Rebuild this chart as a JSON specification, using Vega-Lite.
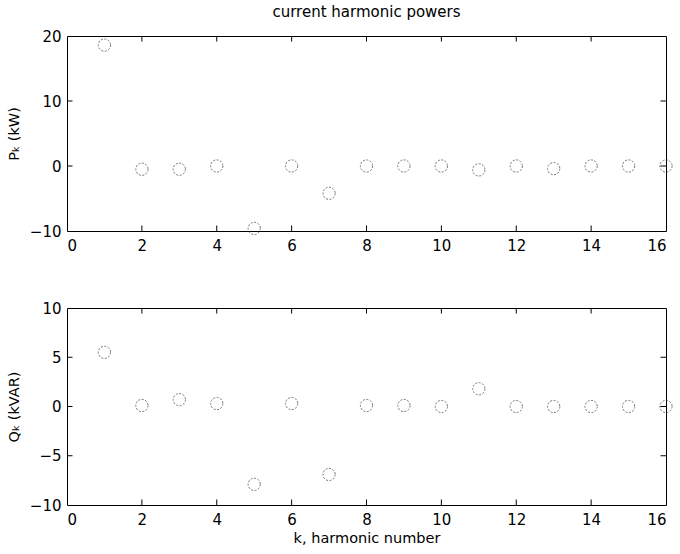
{
  "$schema": "https://vega.github.io/schema/vega-lite/v6.json",
  "padding": {"left": 5, "top": 4, "right": 5, "bottom": 5},
  "background": "white",
  "config": {
    "font": "DejaVu Sans",
    "view": {"stroke": "black", "strokeWidth": 1},
    "axis": {
      "grid": false,
      "domain": false,
      "ticks": false,
      "labelColor": "black",
      "labelFont": "DejaVu Sans",
      "labelFontSize": 15,
      "titleFont": "DejaVu Sans",
      "titleFontSize": 14.5,
      "titleFontWeight": "normal",
      "titleColor": "black"
    },
    "title": {"font": "DejaVu Sans", "fontSize": 15, "fontWeight": "normal", "color": "black"}
  },
  "datasets": {
    "harmonics": [
      {"k": 1, "P": 18.6, "Q": 5.5},
      {"k": 2, "P": -0.5, "Q": 0.1},
      {"k": 3, "P": -0.5, "Q": 0.7},
      {"k": 4, "P": 0.0, "Q": 0.3},
      {"k": 5, "P": -9.6, "Q": -7.9},
      {"k": 6, "P": 0.0, "Q": 0.3},
      {"k": 7, "P": -4.2, "Q": -6.9},
      {"k": 8, "P": 0.0, "Q": 0.1},
      {"k": 9, "P": 0.0, "Q": 0.1},
      {"k": 10, "P": 0.0, "Q": 0.0},
      {"k": 11, "P": -0.6, "Q": 1.8},
      {"k": 12, "P": 0.0, "Q": 0.0},
      {"k": 13, "P": -0.4, "Q": 0.0},
      {"k": 14, "P": 0.0, "Q": 0.0},
      {"k": 15, "P": 0.0, "Q": 0.0},
      {"k": 16, "P": 0.0, "Q": 0.0}
    ],
    "p_xticks": [
      {"k": 2, "v": -10}, {"k": 4, "v": -10}, {"k": 6, "v": -10}, {"k": 8, "v": -10},
      {"k": 10, "v": -10}, {"k": 12, "v": -10}, {"k": 14, "v": -10},
      {"k": 2, "v": 20}, {"k": 4, "v": 20}, {"k": 6, "v": 20}, {"k": 8, "v": 20},
      {"k": 10, "v": 20}, {"k": 12, "v": 20}, {"k": 14, "v": 20}
    ],
    "p_yticks": [
      {"k": 0, "v": 0}, {"k": 0, "v": 10},
      {"k": 16, "v": 0}, {"k": 16, "v": 10}
    ],
    "q_xticks": [
      {"k": 2, "v": -10}, {"k": 4, "v": -10}, {"k": 6, "v": -10}, {"k": 8, "v": -10},
      {"k": 10, "v": -10}, {"k": 12, "v": -10}, {"k": 14, "v": -10},
      {"k": 2, "v": 10}, {"k": 4, "v": 10}, {"k": 6, "v": 10}, {"k": 8, "v": 10},
      {"k": 10, "v": 10}, {"k": 12, "v": 10}, {"k": 14, "v": 10}
    ],
    "q_yticks": [
      {"k": 0, "v": -5}, {"k": 0, "v": 0}, {"k": 0, "v": 5},
      {"k": 16, "v": -5}, {"k": 16, "v": 0}, {"k": 16, "v": 5}
    ]
  },
  "spacing": 46,
  "vconcat": [
    {
      "width": 599,
      "height": 195,
      "title": {"text": "current harmonic powers", "offset": 9},
      "layer": [
        {
          "data": {"name": "harmonics"},
          "mark": {"type": "point", "shape": "circle", "filled": false, "size": 150, "stroke": "#3a3a3a", "strokeWidth": 1, "strokeDash": [2, 1.5]},
          "encoding": {
            "x": {"field": "k", "type": "quantitative", "scale": {"domain": [0, 16], "nice": false},
                  "axis": {"values": [0, 2, 4, 6, 8, 10, 12, 14, 16], "title": null, "labelPadding": 7}},
            "y": {"field": "P", "type": "quantitative", "scale": {"domain": [-10, 20], "nice": false, "zero": false},
                  "axis": {"values": [-10, 0, 10, 20], "title": "Pₖ (kW)", "labelPadding": 6, "titlePadding": 8}}
          }
        },
        {
          "data": {"name": "p_xticks"},
          "mark": {"type": "tick", "orient": "vertical", "size": 11, "thickness": 1, "color": "black", "opacity": 1, "clip": true},
          "encoding": {
            "x": {"field": "k", "type": "quantitative", "scale": {"domain": [0, 16], "nice": false}},
            "y": {"field": "v", "type": "quantitative", "scale": {"domain": [-10, 20], "nice": false, "zero": false}}
          }
        },
        {
          "data": {"name": "p_yticks"},
          "mark": {"type": "tick", "orient": "horizontal", "size": 11, "thickness": 1, "color": "black", "opacity": 1, "clip": true},
          "encoding": {
            "x": {"field": "k", "type": "quantitative", "scale": {"domain": [0, 16], "nice": false}},
            "y": {"field": "v", "type": "quantitative", "scale": {"domain": [-10, 20], "nice": false, "zero": false}}
          }
        }
      ]
    },
    {
      "width": 599,
      "height": 197,
      "layer": [
        {
          "data": {"name": "harmonics"},
          "mark": {"type": "point", "shape": "circle", "filled": false, "size": 150, "stroke": "#3a3a3a", "strokeWidth": 1, "strokeDash": [2, 1.5]},
          "encoding": {
            "x": {"field": "k", "type": "quantitative", "scale": {"domain": [0, 16], "nice": false},
                  "axis": {"values": [0, 2, 4, 6, 8, 10, 12, 14, 16], "title": "k, harmonic number", "labelPadding": 7, "titlePadding": 4}},
            "y": {"field": "Q", "type": "quantitative", "scale": {"domain": [-10, 10], "nice": false, "zero": false},
                  "axis": {"values": [-10, -5, 0, 5, 10], "title": "Qₖ (kVAR)", "labelPadding": 6, "titlePadding": 8}}
          }
        },
        {
          "data": {"name": "q_xticks"},
          "mark": {"type": "tick", "orient": "vertical", "size": 11, "thickness": 1, "color": "black", "opacity": 1, "clip": true},
          "encoding": {
            "x": {"field": "k", "type": "quantitative", "scale": {"domain": [0, 16], "nice": false}},
            "y": {"field": "v", "type": "quantitative", "scale": {"domain": [-10, 10], "nice": false, "zero": false}}
          }
        },
        {
          "data": {"name": "q_yticks"},
          "mark": {"type": "tick", "orient": "horizontal", "size": 11, "thickness": 1, "color": "black", "opacity": 1, "clip": true},
          "encoding": {
            "x": {"field": "k", "type": "quantitative", "scale": {"domain": [0, 16], "nice": false}},
            "y": {"field": "v", "type": "quantitative", "scale": {"domain": [-10, 10], "nice": false, "zero": false}}
          }
        }
      ]
    }
  ]
}
